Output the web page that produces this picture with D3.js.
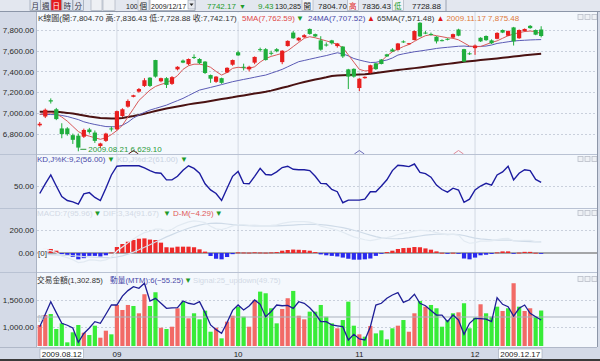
<!DOCTYPE html>
<html><head><meta charset="utf-8">
<script src="https://cdn.jsdelivr.net/npm/d3@7"></script>
<style>
html,body{margin:0;padding:0;background:#fff;overflow:hidden;}
svg{display:block;font-family:"Liberation Sans",Arial,"Noto Sans CJK TC",sans-serif;}
</style></head><body>
<svg id="c" width="600" height="361"></svg>
<script>
// ---------------- DATA ----------------
const dates = [
"2009-08-12","2009-08-13","2009-08-14","2009-08-17","2009-08-18","2009-08-19","2009-08-20","2009-08-21","2009-08-24","2009-08-25","2009-08-26","2009-08-27","2009-08-28","2009-08-31",
"2009-09-01","2009-09-02","2009-09-03","2009-09-04","2009-09-07","2009-09-08","2009-09-09","2009-09-10","2009-09-11","2009-09-14","2009-09-15","2009-09-16","2009-09-17","2009-09-18","2009-09-21","2009-09-22","2009-09-23","2009-09-24","2009-09-25","2009-09-28","2009-09-29","2009-09-30",
"2009-10-01","2009-10-02","2009-10-05","2009-10-06","2009-10-07","2009-10-08","2009-10-09","2009-10-12","2009-10-13","2009-10-14","2009-10-15","2009-10-16","2009-10-19","2009-10-20","2009-10-21","2009-10-22","2009-10-23","2009-10-26","2009-10-27","2009-10-28","2009-10-29","2009-10-30",
"2009-11-02","2009-11-03","2009-11-04","2009-11-05","2009-11-06","2009-11-09","2009-11-10","2009-11-11","2009-11-12","2009-11-13","2009-11-16","2009-11-17","2009-11-18","2009-11-19","2009-11-20","2009-11-23","2009-11-24","2009-11-25","2009-11-26","2009-11-27","2009-11-30",
"2009-12-01","2009-12-02","2009-12-03","2009-12-04","2009-12-07","2009-12-08","2009-12-09","2009-12-10","2009-12-11","2009-12-14","2009-12-15","2009-12-16","2009-12-17"];

const open  = [6880,6965,7122,7035,6850,6850,6785,6780,6770,6840,6810,6680,6730,6850,6841,6970,7060,7155,7205,7260,7340,7510,7305,7335,7280,7420,7505,7470,7540,7520,7495,7365,7300,7335,7390,7465,7585,7445,7420,7485,7615,7615,7580,7615,7490,7645,7775,7700,7730,7810,7760,7700,7660,7700,7645,7640,7420,7425,7240,7335,7385,7478,7515,7565,7612,7608,7690,7668,7703,7870,7775,7762,7735,7702,7715,7727,7805,7615,7575,7625,7725,7742,7700,7715,7800,7745,7825,7720,7790,7840,7800,7804.70];
const high  = [6912,7042,7140,7048,6900,6862,6800,6800,6848,6855,6830,6712,6808,6870,7022,7045,7130,7175,7240,7335,7345,7512,7340,7345,7355,7450,7515,7525,7565,7528,7500,7370,7355,7340,7440,7515,7600,7475,7455,7545,7630,7625,7600,7625,7605,7700,7790,7730,7760,7815,7765,7740,7680,7705,7675,7645,7425,7430,7335,7352,7465,7482,7520,7570,7625,7675,7700,7675,7795,7875.48,7790,7775,7740,7710,7720,7765,7812,7618,7585,7660,7730,7748,7710,7778,7805,7795,7830,7805,7815,7848,7805,7836.43];
const low   = [6868,6950,7090,6930,6755,6780,6700,6629.10,6758,6800,6710,6660,6720,6820,6830,6960,7050,7150,7195,7250,7250,7340,7295,7240,7270,7410,7480,7460,7520,7470,7375,7290,7290,7280,7385,7455,7550,7410,7400,7470,7590,7505,7555,7585,7470,7640,7715,7690,7725,7755,7730,7600,7640,7660,7630,7530,7230,7340,7210,7330,7380,7415,7468,7540,7588,7600,7675,7660,7700,7735,7760,7745,7670,7690,7700,7720,7740,7490,7560,7560,7685,7695,7665,7710,7770,7740,7650,7715,7785,7812,7750,7728.88];
const close = [6895,7030,7110,6940,6795,6795,6740,6665,6835,6815,6730,6705,6800,6840,7017,7035,7115,7170,7230,7315,7260,7350,7335,7270,7345,7445,7485,7520,7535,7480,7385,7330,7350,7290,7435,7510,7555,7440,7445,7540,7610,7510,7575,7595,7600,7695,7720,7725,7750,7762,7738,7610,7655,7672,7670,7545,7350,7350,7330,7348,7460,7422,7472,7545,7592,7670,7685,7672,7790,7738,7772,7758,7690,7698,7710,7760,7745,7495,7570,7650,7690,7702,7672,7772,7775,7790,7690,7800,7810,7818,7755,7742.17];

const ma5  = [6985,6995,7000,6990,6960,6920,6870,6820,6790,6775,6760,6745,6760,6790,6830,6880,6960,7040,7120,7170,7220,7255,7275,7290,7320,7360,7420,7455,7470,7470,7460,7440,7400,7365,7390,7430,7440,7435,7430,7445,7490,7525,7545,7560,7575,7600,7640,7680,7720,7735,7725,7710,7695,7680,7660,7630,7560,7490,7420,7405,7410,7450,7500,7550,7590,7615,7640,7660,7690,7720,7745,7755,7745,7735,7725,7720,7705,7675,7645,7640,7640,7660,7680,7695,7720,7745,7760,7775,7785,7790,7785,7762.59];
const ma24 = [6986,6985,6984,6983,6975,6965,6950,6935,6914,6900,6888,6878,6868,6866,6866,6880,6910,6950,6980,7005,7027,7043,7059,7075,7097,7118,7140,7167,7194,7220,7233,7246,7259,7273,7287,7301,7312,7323,7333,7344,7355,7365,7383,7401,7420,7445,7470,7494,7506,7518,7530,7542,7553,7567,7580,7570,7550,7525,7510,7497,7486,7488,7500,7510,7530,7558,7570,7580,7590,7597,7605,7613,7622,7628,7633,7638,7643,7645,7640,7640,7642,7645,7655,7670,7678,7686,7694,7698,7701,7704,7706,7707.52];
const ma65 = [7010,7012,7012,7010,7005,7000,6993,6985,6975,6965,6957,6950,6947,6945,6945,6950,6960,6969,6980,6992,7005,7018,7030,7043,7052,7062,7072,7082,7090,7098,7106,7115,7124,7133,7142,7150,7160,7168,7177,7186,7195,7204,7215,7228,7242,7255,7270,7285,7298,7310,7322,7332,7343,7356,7360,7363,7366,7368,7370,7372,7378,7385,7392,7400,7407,7413,7420,7426,7432,7438,7445,7452,7459,7466,7473,7480,7487,7494,7499,7504,7510,7515,7520,7526,7532,7538,7544,7550,7556,7562,7567,7571.48];

const kdK = [33,55,75,50,26,17,14,9,32,35,24,17,45,75,95,96,96,96,96,91,85,80,79,64,64,72,86,96,90,79,55,41,33,17,45,72,83,56,55,72,90,76,75,82,92,95,88,87,87,85,72,56,55,42,37,12,18,18,18,20,37,37,50,64,85,97,96,94,100,81,78,70,52,42,36,45,41,13,20,41,50,56,52,75,82,95,64,79,87,85,65,58];
const kdLabelK = 56.00, kdLabelD = 61.00;

const macdHist = [10,35,35,20,-10,-20,-35,-55,-45,-25,-25,-30,-20,5,52,78,98,113,124,127,117,113,90,50,47,55,55,55,50,32,12,-26,-50,-55,-35,-10,5,4,3,6,4,3,5,8,20,26,30,28,25,20,8,-12,-20,-25,-30,-40,-50,-58,-58,-55,-48,-25,-5,8,20,35,43,45,52,50,40,29,14,2,-6,2,-4,-48,-55,-40,-20,-15,-8,5,14,14,-2,3,10,10,2,-4.29];
const macdLine = [-10,-12,-14,-16,-18,-20,-24,-28,-32,-35,-37,-39,-40,-40,-35,-25,-10,8,28,50,72,95,118,140,160,180,198,215,230,242,252,258,260,258,252,246,242,240,238,236,235,235,235,236,238,240,243,246,248,249,249,246,242,236,228,220,210,198,185,170,155,142,132,126,124,125,128,133,140,148,155,160,163,164,163,162,160,152,140,130,123,118,114,112,112,113,108,104,101,99,97,95.96];
const difLine = [0,23,21,4,-28,-40,-59,-83,-77,-60,-62,-69,-60,-35,17,53,88,121,152,177,189,208,208,190,207,235,253,270,280,274,264,232,210,203,217,236,247,244,241,242,239,238,240,244,258,266,273,274,273,269,257,234,222,211,198,180,160,140,127,115,107,117,127,134,144,160,171,178,192,198,195,189,177,166,157,164,156,104,85,90,103,103,106,117,126,127,106,107,111,109,99,91.67];

const turnover = [1032,1219,1238,957,1063,707,895,1032,887,844,1019,794,925,857,1407,1313,1407,1388,1251,1608,1388,1645,981,957,1000,1345,1469,1157,1251,1138,1300,906,981,782,1094,1206,1375,1188,1000,1501,1657,1626,1345,1063,1332,1533,1670,1206,1138,1282,1282,1407,1188,1063,970,1125,1469,1019,857,813,1013,875,932,763,970,1019,1125,906,1251,1482,1375,1407,1345,1000,1125,1251,1269,1439,970,1169,1420,1251,1188,1375,1294,1345,1814,1375,1294,1345,1188,1302.85];
const turnoverDir = "rrggggggrggrrgrrrgrrggrgrrgrggggrgrrggrrggggrrgrrgggggrgggrgrggggrgrrgrgggggrgggrgggrgrgrrggg";
const mtm = [-176,50,278,80,-115,-150,-200,-460,-300,-200,-85,-115,50,218,218,380,480,551,522,613,291,340,250,158,165,169,291,250,231,278,80,-145,-230,-296,-100,120,218,127,200,309,231,5,100,218,205,210,158,278,250,169,60,-85,-85,-145,-160,-176,-418,-315,-400,-418,-176,218,250,340,400,442,267,309,413,249,205,120,36,33,-85,36,-55,-315,-115,-24,-30,-40,-85,351,231,187,18,158,218,67,5,-55.25];
const mtmSignal = 49.75;

const priceTicks = [7800,7600,7400,7200,7000,6800];
const kdTicks = [50];
const macdTicks = [200,0];
const volTicks = [1500,1000];
const monthStarts = ["2009-09-01","2009-10-01","2009-11-02","2009-12-01"];
const monthLabels = ["09","10","11","12"];
const crossMarks = [{d:"2009-09-04",c:"#5a1a1a"},{d:"2009-11-02",c:"#6a6ab8"},{d:"2009-11-26",c:"#e08a9a"}];
const quote = {last:"7742.17", chg:"9.43", vol:"130,285", o:"7804.70", h:"7836.43", l:"7728.88", date:"2009/12/17", count:"100"};

// ---------------- LAYOUT ----------------
const svg = d3.select("#c");
const L = 37, R = 597;
const plotBg = "#f4f8fd", axisBg = "#d4dae7", grid = "#c9d0dc", sepC = "#b9c2d3";
const red = "#e81e1e", green = "#1fae3c";

const x = d3.scaleBand().domain(dates).range([L, L + dates.length*5.51]).padding(0);
const xc = d => x(d) + x.bandwidth()/2;
const bw = 4.2;

const yP = d3.scaleLinear().domain([6800,7800]).range([133.6,30]);
const yK = d3.scaleLinear().domain([0,100]).range([208,164]);
const yM = d3.scaleLinear().domain([0,200]).range([253,230]);
const yV = d3.scaleLinear().domain([1000,1500]).range([326.7,300]);
const yT = d3.scaleLinear().domain([0,100]).range([317,311.5]);

// backgrounds
svg.append("rect").attr("width",600).attr("height",361).attr("fill",axisBg);
svg.append("rect").attr("x",0).attr("y",0).attr("width",600).attr("height",11.5).attr("fill","#e3e7ef");
svg.append("line").attr("x1",0).attr("x2",600).attr("y1",11.5).attr("y2",11.5).attr("stroke","#8c96a8");
svg.append("rect").attr("x",L).attr("y",12).attr("width",R-L).attr("height",335).attr("fill",plotBg);

svg.append("clipPath").attr("id","pc").append("rect").attr("x",L).attr("y",12).attr("width",R-L).attr("height",335);
const g = svg.append("g").attr("clip-path","url(#pc)");

// month vertical grid
g.selectAll(".vg").data(monthStarts).join("line")
  .attr("x1",d=>xc(d)).attr("x2",d=>xc(d)).attr("y1",12).attr("y2",347)
  .attr("stroke","#d3d9e3").attr("stroke-width",1);

function hgrid(scale, vals){
  g.selectAll(null).data(vals).join("line")
   .attr("x1",L).attr("x2",R).attr("y1",d=>Math.round(scale(d))+0.5).attr("y2",d=>Math.round(scale(d))+0.5)
   .attr("stroke",grid).attr("stroke-dasharray","2,2");
}
hgrid(yP, priceTicks); hgrid(yK, kdTicks); hgrid(yM, [200]); hgrid(yV, volTicks);

[154,208,272].forEach(yy=>{
  svg.append("line").attr("x1",0).attr("x2",R).attr("y1",yy+0.5).attr("y2",yy+0.5).attr("stroke",sepC);
});

function yaxis(scale, vals, fmt){
  const ax = d3.axisLeft(scale).tickValues(vals).tickSize(0).tickPadding(0).tickFormat(fmt);
  const a = svg.append("g").attr("transform","translate(34,0)").call(ax);
  a.select(".domain").remove();
  a.selectAll("text").attr("font-size","8px").attr("fill","#2a2a2a").attr("font-family","Liberation Sans, Arial, sans-serif");
}
const f2 = d3.format(",.2f");
yaxis(yP, priceTicks, f2); yaxis(yK, kdTicks, f2); yaxis(yM, macdTicks, f2); yaxis(yV, volTicks, f2);

// ---------- MAIN PANEL ----------
const idx = d3.range(dates.length);
const lineP = arr => d3.line().x(i=>xc(dates[i])).y(i=>yP(arr[i]));
g.append("path").attr("d",lineP(ma65)(idx)).attr("fill","none").attr("stroke","#4a1212").attr("stroke-width",2);
g.append("path").attr("d",lineP(ma24)(idx)).attr("fill","none").attr("stroke","#5b5bb5").attr("stroke-width",1);
g.append("path").attr("d",lineP(ma5)(idx)).attr("fill","none").attr("stroke","#d85858").attr("stroke-width",1);

const cg = g.append("g");
idx.forEach(i=>{
  const up = close[i] >= open[i];
  const col = up ? red : green;
  const cx = xc(dates[i]);
  cg.append("line").attr("x1",cx).attr("x2",cx).attr("y1",yP(high[i])).attr("y2",yP(low[i])).attr("stroke",col).attr("stroke-width",1);
  const y1 = yP(Math.max(open[i],close[i])), y2 = yP(Math.min(open[i],close[i]));
  cg.append("rect").attr("x",cx-bw/2).attr("y",y1).attr("width",bw).attr("height",Math.max(1,y2-y1)).attr("fill",col);
});

const iMin = low.indexOf(d3.min(low)), iMax = high.indexOf(d3.max(high));
const fmtD = d => d.replace(/-/g,".");
g.append("line").attr("x1",xc(dates[iMin])+2).attr("x2",xc(dates[iMin])+8).attr("y1",yP(low[iMin])-2).attr("y2",yP(low[iMin])-2).attr("stroke","#2a9a3a");
g.append("text").attr("x",xc(dates[iMin])+10).attr("y",yP(low[iMin])+1).attr("font-size","8px").attr("fill","#2a9a3a")
  .text(fmtD(dates[iMin])+"  "+f2(low[iMin]));

crossMarks.forEach(m=>{
  const cx = xc(m.d);
  g.append("path").attr("d",`M${cx-5},154 L${cx},150.5 L${cx+5},154`).attr("fill","none").attr("stroke",m.c).attr("stroke-width",1);
});

// header: parts placed at given x, pushed right if they would overlap the previous part
function hdr(y, parts, size){
  let prevEnd = 0, lastEnd = 0;
  parts.forEach(p=>{
    const t = svg.append("text").attr("y",y).attr("font-size",(size||8)+"px").attr("fill",p[2]).text(p[1]);
    const xx = Math.max(p[0], prevEnd + 1);
    t.attr("x",xx);
    prevEnd = xx + t.node().getComputedTextLength();
    lastEnd = prevEnd;
  });
  return lastEnd;
}
svg.append("rect").attr("x",L).attr("y",12.5).attr("width",406).attr("height",9).attr("fill",plotBg);
const mainEnd = hdr(20.5, [
  [38,"K線圖(開:"+f2(open[91])+" 高:"+f2(high[91])+" 低:"+f2(low[91])+" 收:"+f2(close[91])+")","#333"],
  [242,"5MA("+f2(ma5[91])+")","#e04848"],
  [294,"▼","#1e9a2a"],
  [308,"24MA("+f2(ma24[91])+")","#4848a8"],
  [367,"▲","#e01818"],
  [377,"65MA("+f2(ma65[91])+")","#333"],
  [436.5,"▲","#e01818"]
]);
// max annotation (placed just after the header)
svg.append("text").attr("x",Math.max(mainEnd+2, xc(dates[iMax])+5)).attr("y",20.5).attr("font-size","8px").attr("fill","#e07a3a")
  .text(fmtD(dates[iMax])+" "+f2(high[iMax]));

function icons(y){
  [578,585,592].forEach(xx=>{
    svg.append("rect").attr("x",xx).attr("y",y).attr("width",5).attr("height",5).attr("fill","#eef1f5").attr("stroke","#b8bec8").attr("stroke-width",0.8);
  });
}
icons(14.5); icons(156.5); icons(210.5); icons(276.5);

// ---------- KD PANEL ----------
g.append("path").attr("d",d3.line().x(i=>xc(dates[i])).y(i=>yK(kdK[i]))(idx))
 .attr("fill","none").attr("stroke","#1c1ca0").attr("stroke-width",1.4);
hdr(162, [
  [37,"KD,J%K:9,2("+f2(kdLabelK)+")","#4a4aa8"],
  [107,"▼","#1e9a2a"],
  [117,"KD,J%d:2("+f2(kdLabelD)+")","#c9d2e2"],
  [180,"▼","#1e9a2a"]
]);

// ---------- MACD PANEL ----------
g.append("line").attr("x1",L).attr("x2",R).attr("y1",yM(0)).attr("y2",yM(0)).attr("stroke","#555").attr("stroke-width",1);
g.selectAll(".mh").data(idx).join("rect")
 .attr("x",i=>xc(dates[i])-bw/2).attr("width",bw)
 .attr("y",i=>Math.min(yM(macdHist[i]),yM(0)))
 .attr("height",i=>Math.max(0.8,Math.abs(yM(macdHist[i])-yM(0))))
 .attr("fill",i=>macdHist[i]>=0?"#ee2a2a":"#2a2aee");
const lineM = arr => d3.line().x(i=>xc(dates[i])).y(i=>yM(arr[i]));
g.append("path").attr("d",lineM(macdLine)(idx)).attr("fill","none").attr("stroke","#cfdbe8").attr("stroke-width",1.2);
g.append("path").attr("d",lineM(difLine)(idx)).attr("fill","none").attr("stroke","#e2eaf2").attr("stroke-width",1.2);
svg.append("rect").attr("x",37.5).attr("y",yM(0)-4).attr("width",10).attr("height",8).attr("fill","#f4f8fd");
svg.append("text").attr("x",38).attr("y",yM(0)+3).attr("font-size","8px").attr("fill","#333").text("[0]");
hdr(215.5, [
  [37,"MACD:7("+f2(macdLine[91])+")","#d2d9e5"],
  [93,"▼","#1e9a2a"],
  [103,"DIF:3,34("+f2(difLine[91])+")","#d2d9e5"],
  [163,"▼","#1e9a2a"],
  [173,"D-M("+f2(macdHist[91])+")","#e05a5a"],
  [213,"▼","#1e9a2a"]
]);

// ---------- VOLUME PANEL ----------
g.selectAll(".vb").data(idx).join("rect")
 .attr("x",i=>xc(dates[i])-bw/2).attr("width",bw)
 .attr("y",i=>yV(turnover[i])).attr("height",i=>346-yV(turnover[i]))
 .attr("fill",i=>turnoverDir[i]==="r"?"#f26a66":"#38ec38");
g.append("line").attr("x1",L).attr("x2",R).attr("y1",yT(0)).attr("y2",yT(0)).attr("stroke","#a9b1bd").attr("stroke-width",1);
svg.append("text").attr("x",38).attr("y",yT(0)+3).attr("font-size","8px").attr("fill","#b0b6c0").text("[0");
g.append("path").attr("d",d3.line().x(i=>xc(dates[i])).y(i=>yT(mtm[i]))(idx))
 .attr("fill","none").attr("stroke","#1e1e96").attr("stroke-width",1.3);
hdr(283, [
  [37,"交易金額("+f2(turnover[91])+")","#333"],
  [110,"動量(MTM):6("+f2(mtm[91])+")","#4a4aa8"],
  [182,"▼","#1e9a2a"],
  [193,"Signal:25_updown("+f2(mtmSignal)+")","#d2d9e5"]
], 7.7);

// ---------- DATE AXIS ----------
svg.append("rect").attr("x",0).attr("y",347).attr("width",600).attr("height",12).attr("fill",axisBg);
svg.append("line").attr("x1",0).attr("x2",600).attr("y1",347.5).attr("y2",347.5).attr("stroke","#b0b8c8");
svg.append("rect").attr("x",0).attr("y",359).attr("width",600).attr("height",2).attr("fill","#3a3a3a");
monthStarts.forEach((d,k)=>{
  svg.append("text").attr("x",xc(d)).attr("y",356.5).attr("text-anchor","middle").attr("font-size","8px").attr("fill","#222").text(monthLabels[k]);
});
function dbox(xx, anchor, txt){
  const w = 43.5;
  const x0 = anchor==="start"? xx : xx - w;
  svg.append("rect").attr("x",x0).attr("y",349).attr("width",w).attr("height",9.5).attr("fill","#fff").attr("stroke","#9aa4b4").attr("stroke-width",0.6);
  svg.append("text").attr("x",x0+w/2).attr("y",356.5).attr("text-anchor","middle").attr("font-size","8px").attr("fill","#222").text(txt);
}
dbox(40,"start",fmtD(dates[0]));
dbox(542,"end",fmtD(dates[91]));

svg.append("rect").attr("x",R).attr("y",12).attr("width",3).attr("height",347).attr("fill",axisBg);
svg.append("line").attr("x1",R+0.5).attr("x2",R+0.5).attr("y1",12).attr("y2",347).attr("stroke","#8c96a8");
svg.append("line").attr("x1",L-0.5).attr("x2",L-0.5).attr("y1",12).attr("y2",347).attr("stroke","#aab3c3");

// ---------- TOOLBAR ----------
const tb = svg.append("g");
const cjk = "Noto Sans CJK TC";
function tbtext(xx, txt, col, size, fam){
  const t = tb.append("text").attr("x",xx).attr("y",9).attr("fill",col).attr("font-size",(size||7.5)+"px").text(txt);
  if(fam) t.attr("font-family",fam);
  return t;
}
function tbbox(xx, w, fill, stroke){
  tb.append("rect").attr("x",xx).attr("y",-2).attr("width",w).attr("height",12.5).attr("fill",fill).attr("stroke",stroke||"#8b95a6").attr("stroke-width",0.6);
}
const btns = [["月",30],["週",40.5],["日",51],["時",62],["分",73]];
btns.forEach(b=>{
  tbbox(b[1],10.5,b[0]==="日"?"#e51c1c":"#dfe4ee");
  tbtext(b[1]+1.5,b[0],b[0]==="日"?"#fff":"#334",7.5,cjk);
});
tbbox(91,11,"#eef0f4","#a0a8b6");
tbbox(103,12,"#eef0f4","#a0a8b6");
tbtext(126,quote.count,"#222",7);
tbbox(138,11,"#e8ebf1","#a0a8b6");
tbtext(139.5,"個","#222",7.5,cjk);
tbbox(150,45,"#fff","#7c8698");
tbtext(151,quote.date,"#222",7);
tb.append("rect").attr("x",188).attr("y",0).attr("width",7).attr("height",9).attr("fill","#e6e9ef").attr("stroke","#7c8698").attr("stroke-width",0.5);
tb.append("path").attr("d","M189.5,3.5 L193.5,3.5 L191.5,6 Z").attr("fill","#222");
tbtext(207,quote.last,"#1e9a2a",8);
tbtext(239,"▼","#1e9a2a",7);
tbtext(258,quote.chg,"#1e9a2a",8);
tbtext(275,quote.vol,"#222",7.2);
tbbox(302,11,"#f2f4f8","#a0a8b6");
tbtext(303.5,"開","#222",7.5,cjk);
tbtext(318,quote.o,"#222",8);
tbbox(347.5,11,"#f2f4f8","#a0a8b6");
tbtext(349,"高","#e01818",7.5,cjk);
tbtext(362,quote.h,"#222",8);
tbbox(392.5,11,"#f2f4f8","#a0a8b6");
tbtext(394,"低","#1e9a2a",7.5,cjk);
tbtext(412,quote.l,"#222",8);
tb.append("line").attr("x1",446).attr("x2",446).attr("y1",0).attr("y2",11).attr("stroke","#9aa2b2");
</script>
</body></html>
